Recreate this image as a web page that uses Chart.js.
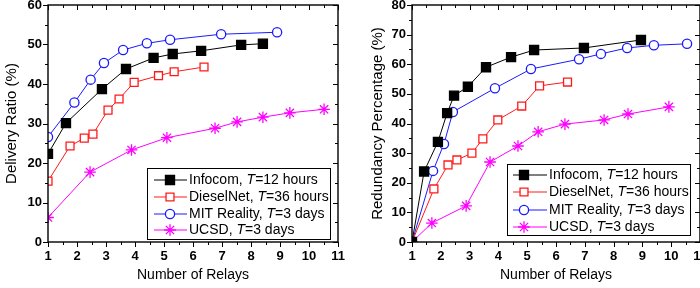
<!DOCTYPE html>
<html>
<head>
<meta charset="utf-8">
<script src="https://cdn.jsdelivr.net/npm/chart.js@4.4.1/dist/chart.umd.min.js"></script>
<style>
  html, body { margin: 0; padding: 0; background: #fff; }
  #wrap { position: relative; width: 700px; height: 288px; }
  canvas { position: absolute; top: 0; }
  #left { left: 0; }
  #right { left: 350px; }
</style>
</head>
<body>
<div id="wrap">
  <canvas id="left" width="350" height="288"></canvas>
  <canvas id="right" width="350" height="288"></canvas>
</div>
<script>
// legend names
const traceNames = ['Infocom', 'DieselNet', 'MIT Reality', 'UCSD'];
const traceT = ['12 hours', '36 hours', '3 days', '3 days'];
const xTicks = [1, 2, 3, 4, 5, 6, 7, 8, 9, 10, 11];

// left panel: delivery ratio
const delInfocomX = [1.0, 1.62, 2.86, 3.69, 4.64, 5.3, 6.28, 7.66, 8.41];
const delInfocomY = [22.3, 30.1, 38.7, 43.8, 46.6, 47.6, 48.4, 49.9, 50.2];
const delDieselX = [1.0, 1.76, 2.25, 2.55, 3.07, 3.45, 3.97, 4.81, 5.35, 6.38];
const delDieselY = [15.4, 24.3, 26.3, 27.3, 33.4, 36.2, 40.4, 42.1, 43.1, 44.3];
const delMitX = [1.0, 1.91, 2.47, 2.93, 3.59, 4.41, 5.21, 6.97, 8.9];
const delMitY = [26.6, 35.3, 41.1, 45.3, 48.6, 50.3, 51.2, 52.6, 53.1];
const delUcsdX = [1.0, 2.45, 3.88, 5.1, 6.76, 7.52, 8.41, 9.34, 10.52];
const delUcsdY = [6.2, 17.7, 23.3, 26.4, 28.8, 30.4, 31.6, 32.7, 33.6];

// right panel: redundancy percentage
const redInfocomX = [1.0, 1.42, 1.9, 2.22, 2.46, 2.94, 3.57, 4.44, 5.24, 6.97, 8.95];
const redInfocomY = [0, 23.8, 33.8, 43.5, 49.4, 52.4, 59.0, 62.4, 64.8, 65.5, 68.2];
const redDieselX = [1.0, 1.76, 2.25, 2.56, 3.08, 3.46, 3.98, 4.81, 5.43, 6.4];
const redDieselY = [0, 17.9, 26.0, 27.7, 30.0, 34.8, 41.2, 45.9, 52.7, 54.0];
const redMitX = [1.0, 1.73, 2.11, 2.42, 3.88, 5.13, 6.8, 7.56, 8.47, 9.4, 10.55];
const redMitY = [0, 24.0, 33.1, 43.9, 51.9, 58.4, 61.7, 63.5, 65.5, 66.4, 66.9];
const redUcsdX = [1.0, 1.69, 2.88, 3.71, 4.68, 5.38, 6.31, 7.67, 8.5, 9.92];
const redUcsdY = [0, 6.4, 12.2, 27.0, 32.4, 37.2, 39.8, 41.2, 43.2, 45.6];

const pts = (xs, ys) => xs.map((x, i) => ({ x, y: ys[i] }));

const styles = [
  { color: '#000000', pointStyle: 'rect', radius: 6.4, fill: '#000000' },
  { color: '#ff1a1a', pointStyle: 'rect', radius: 5.6, fill: '#ffffff' },
  { color: '#1a1aff', pointStyle: 'circle', radius: 4.6, fill: '#ffffff' },
  { color: '#ff00ff', pointStyle: 'star', radius: 5.8, fill: '#ff00ff' },
];

function makeDatasets(series) {
  return series.map((d, i) => ({
    label: traceNames[i],
    data: d,
    borderColor: styles[i].color,
    borderWidth: 1,
    pointStyle: styles[i].pointStyle,
    pointRadius: styles[i].radius,
    pointBackgroundColor: styles[i].fill,
    pointBorderColor: styles[i].color,
    pointBorderWidth: 1.3,
    showLine: true,
    tension: 0,
  }));
}

// frame with ticks: outward on bottom/left, inward on top/right
const framePlugin = {
  id: 'frame',
  afterDraw(chart) {
    const { ctx, chartArea: a, scales: { x, y } } = chart;
    ctx.save();
    ctx.strokeStyle = '#000';
    ctx.lineWidth = 1.4;
    ctx.strokeRect(a.left, a.top, a.right - a.left, a.bottom - a.top);
    ctx.lineWidth = 1;
    ctx.beginPath();
    for (let v = x.min; v <= x.max + 1e-6; v += 0.5) {
      const px = Math.round(x.getPixelForValue(v)) + 0.5;
      const len = Number.isInteger(v) ? 5 : 3;
      ctx.moveTo(px, a.bottom); ctx.lineTo(px, a.bottom + len);
      ctx.moveTo(px, a.top); ctx.lineTo(px, a.top + len);
    }
    for (let v = y.min; v <= y.max + 1e-6; v += 5) {
      const py = Math.round(y.getPixelForValue(v)) + 0.5;
      const len = v % 10 === 0 ? 5 : 3;
      ctx.moveTo(a.left, py); ctx.lineTo(a.left - len, py);
      ctx.moveTo(a.right, py); ctx.lineTo(a.right - len, py);
    }
    ctx.stroke();
    ctx.restore();
  }
};

// boxed legend with italic T
const boxLegend = {
  id: 'boxLegend',
  afterDraw(chart, args, o) {
    const ctx = chart.ctx;
    ctx.save();
    ctx.fillStyle = '#fff';
    ctx.fillRect(o.x, o.y, o.w, o.h);
    ctx.strokeStyle = '#000';
    ctx.lineWidth = 1;
    ctx.strokeRect(o.x + 0.5, o.y + 0.5, o.w, o.h);
    traceNames.forEach((name, i) => {
      const cy = o.rows[i];
      const s = styles[i];
      ctx.strokeStyle = s.color;
      ctx.lineWidth = 1;
      ctx.beginPath();
      ctx.moveTo(o.lineX0, cy); ctx.lineTo(o.lineX1, cy);
      ctx.stroke();
      ctx.fillStyle = s.fill;
      ctx.strokeStyle = s.color;
      ctx.lineWidth = 1.3;
      Chart.helpers.drawPoint(ctx, { pointStyle: s.pointStyle, radius: s.radius, rotation: 0, borderWidth: 1.3 }, o.markX, cy);
      ctx.fillStyle = '#000';
      ctx.textBaseline = 'middle';
      let tx = o.textX;
      const parts = [[name + ', ', 'normal'], ['T', 'italic'], ['=' + traceT[i], 'normal']];
      parts.forEach(([t, st]) => {
        ctx.font = st + ' 14px "Liberation Sans", Arial, sans-serif';
        ctx.fillText(t, tx, cy);
        tx += ctx.measureText(t).width;
      });
    });
    ctx.restore();
  }
};

function makeChart(id, series, yMax, yTitle, yWidth, rightPad, titlePad, legend) {
  const tickFont = { family: '"Liberation Sans", Arial, sans-serif', size: 13, weight: 'bold' };
  const titleFont = { family: '"Liberation Sans", Arial, sans-serif', size: 15 };
  return new Chart(document.getElementById(id), {
    type: 'scatter',
    data: { datasets: makeDatasets(series) },
    options: {
      responsive: false,
      animation: false,
      devicePixelRatio: 1,
      layout: { autoPadding: false, padding: { top: 5, right: rightPad, left: 0, bottom: 0 } },
      plugins: {
        legend: { display: false },
        tooltip: { enabled: false },
        boxLegend: legend,
      },
      scales: {
        x: {
          type: 'linear', min: 1, max: 11,
          afterBuildTicks: s => { s.ticks = xTicks.map(v => ({ value: v })); },
          afterFit: s => { s.height = 46; s.paddingLeft = 0; s.paddingRight = 0; },
          grid: { display: false, drawTicks: false },
          border: { display: false },
          ticks: { color: '#000', font: tickFont, padding: 7, maxRotation: 0, autoSkip: false },
          title: { display: true, text: 'Number of Relays', color: '#000', font: { ...titleFont, size: 14 }, padding: { top: 0, bottom: 4 } },
        },
        y: {
          type: 'linear', min: 0, max: yMax,
          afterFit: s => { s.width = yWidth; s.paddingTop = 0; s.paddingBottom = 0; },
          grid: { display: false, drawTicks: false },
          border: { display: false },
          ticks: { stepSize: 10, color: '#000', font: tickFont, padding: 6 },
          title: { display: true, text: yTitle, color: '#000', font: titleFont, padding: { top: titlePad, bottom: 0 } },
        }
      }
    },
    plugins: [framePlugin, boxLegend]
  });
}

makeChart('left',
  [pts(delInfocomX, delInfocomY), pts(delDieselX, delDieselY), pts(delMitX, delMitY), pts(delUcsdX, delUcsdY)],
  60, 'Delivery Ratio (%)', 48, 12, 3,
  { x: 147, y: 168, w: 183, h: 71, rows: [180, 197, 214, 230], lineX0: 154, lineX1: 187, markX: 170, textX: 189 });

makeChart('right',
  [pts(redInfocomX, redInfocomY), pts(redDieselX, redDieselY), pts(redMitX, redMitY), pts(redUcsdX, redUcsdY)],
  80, 'Redundancy Percentage (%)', 62, 0, 19,
  { x: 157, y: 164, w: 183, h: 71, rows: [175, 192, 210, 227], lineX0: 163, lineX1: 197, markX: 174, textX: 199 });
</script>
</body>
</html>
